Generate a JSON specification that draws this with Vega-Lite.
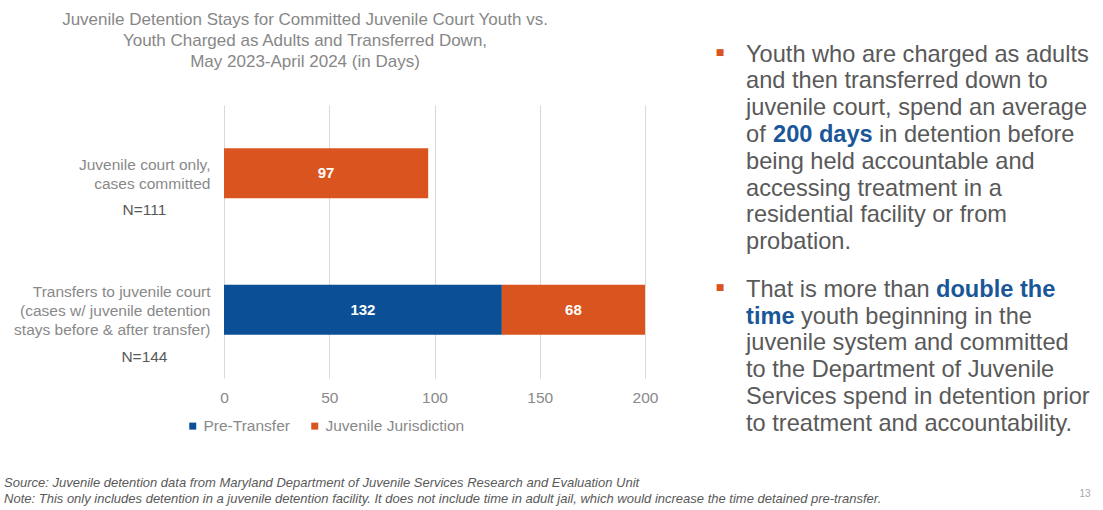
{
  "$schema": "https://vega.github.io/schema/vega-lite/v6.json",
  "width": 421,
  "height": 273,
  "autosize": {"type": "none"},
  "padding": {"left": 224, "top": 105, "right": 458, "bottom": 132},
  "background": "white",
  "config": {
    "font": "Liberation Sans",
    "view": {"stroke": null}
  },
  "title": {
    "text": ["Juvenile Detention Stays for Committed Juvenile Court Youth vs.", "Youth Charged as Adults and Transferred Down,", "May 2023-April 2024 (in Days)"],
    "fontSize": 17,
    "fontWeight": "normal",
    "color": "#878787",
    "lineHeight": 21,
    "anchor": "middle",
    "dx": -129.5,
    "offset": -28.5
  },
  "datasets": {
    "bars": [
      {"group": "Juvenile court only,\ncases committed", "segment": "Juvenile Jurisdiction", "ord": 2, "days": 97},
      {"group": "Transfers to juvenile court\n(cases w/ juvenile detention\nstays before & after transfer)", "segment": "Pre-Transfer", "ord": 1, "days": 132},
      {"group": "Transfers to juvenile court\n(cases w/ juvenile detention\nstays before & after transfer)", "segment": "Juvenile Jurisdiction", "ord": 2, "days": 68}
    ],
    "groups": [
      {"group": "Juvenile court only,\ncases committed", "n": "N=111"},
      {"group": "Transfers to juvenile court\n(cases w/ juvenile detention\nstays before & after transfer)", "n": "N=144"}
    ],
    "notes": [
      {"line": 0, "part": "a", "bullet": true, "text": "Youth who are charged as adults"},
      {"line": 1, "part": "a", "text": "and then transferred down to"},
      {"line": 2, "part": "a", "text": "juvenile court, spend an average"},
      {"line": 3, "part": "a", "text": "of"},
      {"line": 3, "part": "b1", "text": "200 days"},
      {"line": 3, "part": "c1", "text": "in detention before"},
      {"line": 4, "part": "a", "text": "being held accountable and"},
      {"line": 5, "part": "a", "text": "accessing treatment in a"},
      {"line": 6, "part": "a", "text": "residential facility or from"},
      {"line": 7, "part": "a", "text": "probation."},
      {"line": 8.77, "part": "a", "bullet": true, "text": "That is more than"},
      {"line": 8.77, "part": "b2", "text": "double the"},
      {"line": 9.77, "part": "b3", "text": "time"},
      {"line": 9.77, "part": "c3", "text": "youth beginning in the"},
      {"line": 10.77, "part": "a", "text": "juvenile system and committed"},
      {"line": 11.77, "part": "a", "text": "to the Department of Juvenile"},
      {"line": 12.77, "part": "a", "text": "Services spend in detention prior"},
      {"line": 13.77, "part": "a", "text": "to treatment and accountability."},
      {"line": 15.87, "part": "foot", "text": "Source: Juvenile detention data from Maryland Department of Juvenile Services Research and Evaluation Unit"},
      {"line": 16.47, "part": "foot", "text": "Note: This only includes detention in a juvenile detention facility. It does not include time in adult jail, which would increase the time detained pre-transfer."},
      {"line": 16.24, "part": "page", "text": "13"}
    ]
  },
  "layer": [
    {
      "layer": [
        {
          "data": {"name": "bars"},
          "mark": {"type": "bar"},
          "encoding": {
            "y": {
              "field": "group", "type": "nominal",
              "sort": ["Juvenile court only,\ncases committed", "Transfers to juvenile court\n(cases w/ juvenile detention\nstays before & after transfer)"],
              "scale": {"paddingInner": 0.634, "paddingOuter": 0.317},
              "axis": {
                "title": null, "ticks": false, "domain": false, "grid": false,
                "labelExpr": "split(datum.label, '\\n')",
                "labelFontSize": 15.5, "labelColor": "#898989", "labelLineHeight": 19,
                "labelPadding": 14, "labelAlign": "right", "labelBaseline": "middle", "labelLimit": 300,
                "labelOffset": {"condition": {"test": "indexof(datum.value, 'Transfers') == 0", "value": -18}, "value": -8.5}
              }
            },
            "x": {
              "field": "days", "type": "quantitative", "stack": "zero",
              "scale": {"domain": [0, 200], "nice": false},
              "axis": {
                "title": null, "values": [0, 50, 100, 150, 200], "ticks": false, "domain": false,
                "grid": true, "gridColor": "#d9d9d9", "gridWidth": 1, "labelFlush": false,
                "labelFontSize": 15.5, "labelColor": "#898989", "labelPadding": 12
              }
            },
            "color": {
              "field": "segment", "type": "nominal",
              "scale": {"domain": ["Pre-Transfer", "Juvenile Jurisdiction"], "range": ["#0b5096", "#d9541e"]},
              "legend": {
                "title": null, "orient": "none", "legendX": -39, "legendY": 313,
                "direction": "horizontal", "symbolType": "square", "symbolSize": 49,
                "symbolStrokeWidth": 0, "labelFontSize": 15.5, "labelColor": "#898989",
                "labelOffset": 3, "columnPadding": 17
              }
            },
            "order": {"field": "ord", "type": "quantitative"}
          }
        },
        {
          "data": {"name": "bars"},
          "transform": [
            {"stack": "days", "groupby": ["group"], "sort": [{"field": "ord", "order": "ascending"}], "as": ["x0", "x1"]},
            {"fold": ["x0", "x1"], "as": ["edge", "pos"]},
            {"aggregate": [{"op": "mean", "field": "pos", "as": "mid"}], "groupby": ["group", "segment", "days"]}
          ],
          "mark": {"type": "text", "color": "white", "fontWeight": "bold", "fontSize": 15, "baseline": "middle"},
          "encoding": {
            "y": {"field": "group", "type": "nominal", "sort": ["Juvenile court only,\ncases committed", "Transfers to juvenile court\n(cases w/ juvenile detention\nstays before & after transfer)"]},
            "x": {"field": "mid", "type": "quantitative"},
            "text": {"field": "days", "type": "quantitative"}
          }
        },
        {
          "data": {"name": "groups"},
          "transform": [{"filter": "datum.n == 'N=111'"}],
          "mark": {"type": "text", "color": "#595959", "fontSize": 15.5, "baseline": "middle", "align": "center", "dy": 36.5},
          "encoding": {
            "y": {"field": "group", "type": "nominal", "sort": ["Juvenile court only,\ncases committed", "Transfers to juvenile court\n(cases w/ juvenile detention\nstays before & after transfer)"]},
            "x": {"datum": -37.8},
            "text": {"field": "n"}
          }
        },
        {
          "data": {"name": "groups"},
          "transform": [{"filter": "datum.n == 'N=144'"}],
          "mark": {"type": "text", "color": "#595959", "fontSize": 15.5, "baseline": "middle", "align": "center", "dy": 47},
          "encoding": {
            "y": {"field": "group", "type": "nominal", "sort": ["Juvenile court only,\ncases committed", "Transfers to juvenile court\n(cases w/ juvenile detention\nstays before & after transfer)"]},
            "x": {"datum": -37.8},
            "text": {"field": "n"}
          }
        }
      ]
    },
    {
      "data": {"name": "notes"},
      "encoding": {
        "y": {"field": "line", "type": "quantitative", "scale": {"domain": [1.616, 11.803], "reverse": true, "zero": false, "nice": false}, "axis": null}
      },
      "layer": [
        {
          "transform": [{"filter": "datum.part == 'a'"}],
          "mark": {"type": "text", "align": "left", "baseline": "alphabetic", "fontSize": 23.6, "color": "#595959"},
          "encoding": {"x": {"datum": 248}, "text": {"field": "text"}}
        },
        {
          "transform": [{"filter": "datum.bullet == true"}],
          "mark": {"type": "text", "align": "center", "baseline": "alphabetic", "fontSize": 9, "font": "DejaVu Sans", "color": "#d9541e", "text": "■", "dy": -7},
          "encoding": {"x": {"datum": 235.6}}
        },
        {
          "transform": [{"filter": "datum.part == 'b1'"}],
          "mark": {"type": "text", "align": "left", "baseline": "alphabetic", "fontSize": 23.6, "fontWeight": "bold", "color": "#1a5799", "dx": 27},
          "encoding": {"x": {"datum": 248}, "text": {"field": "text"}}
        },
        {
          "transform": [{"filter": "datum.part == 'c1'"}],
          "mark": {"type": "text", "align": "left", "baseline": "alphabetic", "fontSize": 23.6, "color": "#595959", "dx": 133},
          "encoding": {"x": {"datum": 248}, "text": {"field": "text"}}
        },
        {
          "transform": [{"filter": "datum.part == 'b2'"}],
          "mark": {"type": "text", "align": "left", "baseline": "alphabetic", "fontSize": 23.6, "fontWeight": "bold", "color": "#1a5799", "dx": 190},
          "encoding": {"x": {"datum": 248}, "text": {"field": "text"}}
        },
        {
          "transform": [{"filter": "datum.part == 'b3'"}],
          "mark": {"type": "text", "align": "left", "baseline": "alphabetic", "fontSize": 23.6, "fontWeight": "bold", "color": "#1a5799"},
          "encoding": {"x": {"datum": 248}, "text": {"field": "text"}}
        },
        {
          "transform": [{"filter": "datum.part == 'c3'"}],
          "mark": {"type": "text", "align": "left", "baseline": "alphabetic", "fontSize": 23.6, "color": "#595959", "dx": 55},
          "encoding": {"x": {"datum": 248}, "text": {"field": "text"}}
        },
        {
          "transform": [{"filter": "datum.part == 'foot'"}],
          "mark": {"type": "text", "align": "left", "baseline": "alphabetic", "fontSize": 13, "fontStyle": "italic", "color": "#595959"},
          "encoding": {"x": {"datum": -104.5}, "text": {"field": "text"}}
        },
        {
          "transform": [{"filter": "datum.part == 'page'"}],
          "mark": {"type": "text", "align": "center", "baseline": "alphabetic", "fontSize": 10, "color": "#a6a6a6"},
          "encoding": {"x": {"datum": 409}, "text": {"field": "text"}}
        }
      ]
    }
  ],
  "resolve": {"scale": {"y": "independent"}}
}
